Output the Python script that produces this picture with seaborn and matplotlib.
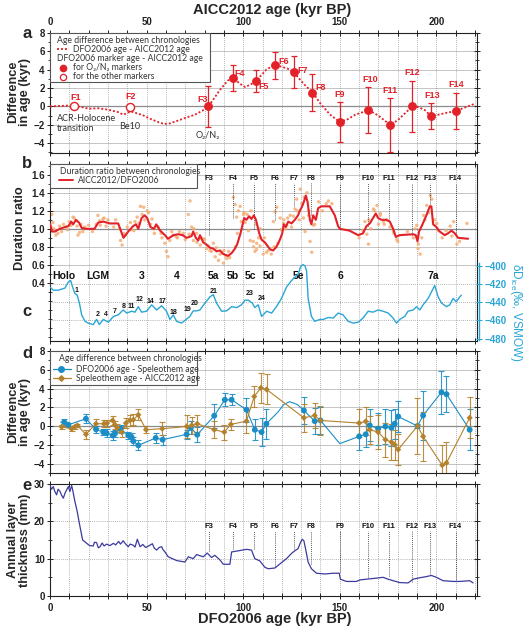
import numpy as np
import pandas as pd
import matplotlib
matplotlib.use("Agg")
import matplotlib.pyplot as plt
import seaborn as sns
from matplotlib.patches import Rectangle
from matplotlib.ticker import MultipleLocator, FuncFormatter

# ---------------------------------------------------------------- data
# panel a : DFO2006 - AICC2012 age difference (kyr) vs AICC2012 age
a_curve_age = [0, 5, 10, 13, 17, 20, 25, 30, 35, 38, 40, 42, 45, 48, 52, 56, 59, 62, 66, 70,
               75, 79, 82, 85, 88, 92, 95, 98, 101, 104, 106.5, 109, 112, 115, 117, 120, 123,
               126, 129, 132, 136, 140, 145, 150, 154, 158, 165, 170, 176, 180, 184, 187.5,
               191, 194, 197, 201, 205, 210, 215, 220]
a_curve_diff = [0, 0.05, 0.1, 0.05, -0.1, -0.25, -0.2, -0.35, -0.6, -0.9, -0.7, -0.55, -0.75,
                -0.95, -1.35, -1.7, -1.9, -1.85, -1.55, -1.25, -0.9, -0.45, 0, 0.9, 1.8, 2.8,
                3.1, 2.5, 2.1, 2.4, 2.75, 3.3, 4.0, 4.35, 4.45, 4.3, 4.1, 3.75, 3.0, 2.3, 1.5,
                0.3, -0.9, -1.7, -1.4, -0.9, -0.4, -1.0, -2.0, -1.5, -0.7, 0.0, -0.1, -0.4,
                -1.0, -0.9, -0.7, -0.5, -0.1, 0.3]
marker_names = ["F1", "F2", "F3", "F4", "F5", "F6", "F7", "F8", "F9", "F10", "F11", "F12", "F13", "F14"]
marker_age = [12.4, 41.2, 81.9, 94.8, 106.4, 116.7, 126.2, 135.7, 150.0, 164.8, 176.2, 187.2, 197.1, 210.0]
marker_diff = [0.05, -0.05, 0.0, 3.1, 2.75, 4.45, 3.75, 1.5, -1.7, -0.4, -2.0, 0.0, -1.0, -0.5]
marker_err = [0, 0, 2.2, 1.4, 1.2, 1.5, 1.7, 2.05, 2.2, 2.5, 2.9, 2.8, 1.4, 2.0]
marker_kind = ["other", "other"] + ["O2/N2"] * 12

# panel b : duration ratio AICC2012/DFO2006
b_age = [0, 1, 2.6, 5, 7.8, 9.5, 11, 12, 13.4, 15, 16.4, 19, 23, 25, 27.6, 31, 35.3, 38, 40.5,
         43, 44.5, 45.7, 47.4, 49, 50.3, 52, 53.8, 55, 57, 59.5, 61, 64, 66.4, 68.6, 70.7, 73.3,
         74.1, 75.5, 76.7, 77.6, 79.3, 80.7, 82.8, 84.5, 86.2, 88, 89.7, 92.2, 94, 95.7, 96.9,
         97.9, 98.6, 99.7, 100.5, 101.7, 103, 104.3, 105.5, 106.6, 108.3, 109.5, 111.2, 112.9,
         114.1, 115.5, 117.2, 119, 120.2, 121, 122, 123.3, 125, 126.7, 128.4, 129.3, 130.5,
         131.4, 132.4, 133.3, 134.5, 135.3, 136.2, 137.6, 138.8, 140.5, 144.8, 147.4, 149.1,
         150, 155, 159.5, 162, 163.8, 165.5, 167.2, 168.6, 169.8, 171.6, 174.1, 175.9, 177.6,
         179, 181, 188, 189.3, 190.2, 191, 192.8, 194.8, 196.6, 197.4, 198.3, 200, 201.7,
         204.3, 206, 207.8, 209.5, 211.2, 216.4]
b_ratio = [1.06, 0.97, 0.97, 1.0, 1.02, 1.03, 1.08, 1.05, 1.10, 1.07, 1.01, 1.0, 1.0, 1.07,
           1.08, 1.06, 1.06, 0.90, 0.97, 1.03, 1.05, 1.0, 1.12, 1.15, 1.12, 1.02, 1.0, 1.05,
           0.98, 0.93, 0.89, 0.93, 0.94, 0.93, 0.90, 0.92, 0.97, 0.90, 0.87, 0.93, 0.85, 0.83,
           0.79, 0.78, 0.75, 0.76, 0.72, 0.70, 0.73, 0.78, 0.83, 0.90, 0.95, 1.05, 1.12, 1.10,
           1.14, 1.11, 1.15, 1.10, 0.95, 0.88, 0.85, 0.80, 0.77, 0.76, 0.80, 0.88, 0.95, 1.05,
           1.02, 1.08, 1.06, 1.10, 1.15, 1.20, 1.25, 1.30, 1.37, 1.30, 1.10, 1.05, 1.15, 1.10,
           1.23, 1.25, 1.25, 1.15, 1.03, 1.00, 0.98, 0.93, 0.95, 1.03, 1.06, 1.12, 1.17, 1.12,
           1.10, 1.10, 1.08, 1.00, 0.91, 0.93, 0.94, 0.93, 0.86, 0.97, 1.05, 1.15, 1.25, 1.25,
           1.05, 1.02, 0.97, 0.93, 0.95, 0.98, 0.95, 0.90, 0.89]
# individual duration-ratio estimates (orange dots)
dots_age = [0.9, 1.5, 2.4, 4.1, 8.4, 11, 11.9, 13.6, 15.3, 14.5,
            24.8, 25.7, 27.4, 23.9, 36.5, 37.3, 38.2, 41.6, 43.4, 45.1,
            46.8, 48.5, 50.3, 47.7, 52, 53.7, 52.8, 59.4, 60.3, 61.1,
            62, 63.7, 65.4, 71.6, 72.5, 73.3, 74.2, 75.9, 77.7, 79.4,
            81.1, 82.8, 84.6, 85.5, 87.2, 88.9, 89.8, 91.5, 92.4, 94.9,
            95.8, 96.6, 97.5, 98.4, 100.1, 101, 102.7, 103.6, 105.3, 106.1,
            107, 105.2, 106.9, 108.7, 110.4, 112.1, 115.6, 116.5, 117.4, 119.1,
            120.8, 122.5, 124.3, 126.8, 127.7, 129.5, 130.3, 131.2, 132, 133.8,
            134.6, 135.5, 136.4, 144.1, 145.9, 164, 164.8, 167.4, 169.2, 170.9,
            172.6, 174.3, 177.8, 179.5, 189.8, 190.7, 191.6, 192.4, 193.3, 195,
            196.8, 197.6, 200.2, 207.1, 208.9, 210.6, 215.8,
            0.5, 2, 3, 5, 6, 7, 9, 10, 12.5, 14,
            16, 17, 18, 20, 22, 26, 28, 29, 30, 33,
            34, 36, 39, 40, 42, 44, 46, 49, 51, 54,
            56, 57.5, 58, 63, 66, 67, 69, 70, 72, 74.5,
            76, 78, 80, 82, 83.5, 86, 88, 90, 91, 93,
            96, 97, 99, 100.5, 102, 104, 106.8, 108, 109, 111,
            113, 114.5, 116, 118, 119.5, 121, 122, 123, 125, 126,
            128, 129, 131.5, 133, 134, 137, 139, 141, 143, 160,
            162, 163, 165, 166, 168, 170, 171, 173, 176, 178,
            180, 185, 188, 189, 190.5, 194, 196, 199, 201, 203,
            205, 208, 212]
dots_ratio = [1.16, 1.07, 0.98, 0.95, 1.02, 1.04, 1.13, 1.09, 0.96, 0.93,
              1.15, 1.09, 1.11, 1.05, 0.87, 0.82, 0.95, 1.07, 0.98, 1.13,
              1.25, 1.24, 1.2, 1.16, 1.05, 1.0, 1.11, 0.84, 0.75, 0.69,
              0.87, 0.93, 0.91, 1.16, 1.31, 1.02, 0.87, 0.95, 0.82, 0.89,
              0.78, 0.76, 0.84, 0.69, 0.65, 0.73, 0.62, 0.67, 0.75, 1.35,
              1.27, 1.13, 1.2, 1.25, 1.16, 1.07, 0.98, 0.87, 0.8, 0.75,
              0.84, 0.86, 0.77, 0.81, 0.72, 0.74, 1.08, 1.19, 1.24, 1.12,
              1.06, 1.04, 1.15, 1.22, 1.33, 1.44, 1.28, 1.12, 0.97, 1.15,
              0.86, 0.74, 1.04, 1.31, 1.28, 0.94, 0.83, 1.22, 1.26, 1.15,
              1.08, 1.10, 0.97, 0.88, 1.04, 0.83, 0.72, 0.9, 1.15, 1.26,
              1.37, 1.33, 1.06, 1.03, 1.08, 0.83, 1.06,
              1.02, 1.0, 0.93, 1.03, 0.97, 1.05, 0.99, 1.08, 1.12, 1.03,
              1.05, 0.97, 1.02, 1.04, 0.97, 1.04, 1.12, 1.03, 1.1, 1.02,
              1.1, 1.0, 0.93, 1.02, 0.99, 1.08, 1.06, 1.1, 1.18, 0.95,
              1.02, 0.95, 0.9, 0.97, 0.9, 0.97, 0.95, 0.88, 0.94, 1.0,
              0.85, 0.9, 0.88, 0.81, 0.75, 0.79, 0.72, 0.76, 0.7, 0.68,
              0.8, 0.95, 1.08, 1.18, 1.16, 1.2, 1.05, 0.9, 1.0, 0.9,
              0.76, 0.72, 0.8, 0.84, 0.99, 1.1, 1.0, 1.12, 1.02, 1.14,
              1.2, 1.1, 1.35, 1.4, 1.2, 1.05, 1.3, 1.2, 1.28, 0.9,
              0.98, 1.08, 1.1, 1.0, 1.2, 1.05, 1.17, 1.05, 1.02, 0.95,
              0.86, 0.97, 0.9, 1.0, 0.78, 1.1, 1.18, 1.1, 0.98, 0.9,
              0.98, 0.92, 0.86]
f_names = ["F3", "F4", "F5", "F6", "F7", "F8", "F9", "F10", "F11", "F12", "F13", "F14"]
f_age_dfo = [82.3, 94.8, 105.8, 116.2, 126.3, 135.3, 150.0, 164.5, 175.2, 187.3, 196.8, 209.9]

# panel c : deltaD ice (permil VSMOW)
c_age = [0, 1.7, 4.3, 7.8, 9.5, 10.7, 11.7, 12.9, 14.1, 15.2, 16.4, 18.1, 19.8, 22.4, 24.1,
         25.5, 27.6, 30.2, 32.8, 35.3, 37.9, 39.7, 42.2, 44, 45.7, 47.4, 50, 52.6, 55.2, 57.8,
         60.3, 62.1, 63.8, 65.5, 68.1, 70.7, 72.4, 74.1, 75.9, 77.6, 80.2, 82.8, 84.5, 86.2,
         88.8, 91.4, 94, 96.6, 99.1, 100.9, 102.6, 104.7, 106, 107.8, 109.5, 112.1, 114.7,
         117.2, 119.8, 122.4, 125, 126.7, 128.4, 129.8, 131, 132, 132.8, 133.6, 135.3, 137,
         139.7, 141.4, 144, 146.6, 149.1, 151.7, 154.3, 156.9, 159.5, 162, 164.7, 167.2,
         169.8, 172.4, 175, 177.6, 179.3, 181, 183.6, 185.3, 188, 189.7, 191.4, 193.1, 195.7,
         197.4, 199.1, 200.9, 202.6, 205.2, 206.9, 208.6, 210.3, 212.1, 212.9]
c_dD = [-423.6, -427, -427, -424.6, -418, -416.4, -423.6, -430.7, -432.5, -441, -454, -461,
        -463, -464.6, -459, -464.6, -459, -462, -455.7, -454, -448.6, -452, -450, -451, -445,
        -451, -450, -443, -448.6, -444, -450, -459, -454, -461, -463, -458.6, -455.7, -449.6,
        -449.6, -448.6, -441, -434.3, -431.8, -441, -450, -449.6, -445, -446, -443, -437.9,
        -437.9, -441, -446, -443, -455.7, -450, -452, -445, -436, -423.6, -416.4, -412.9,
        -409.5, -401, -399, -400.5, -406, -436, -455.7, -461, -459, -459, -456.8, -457.5,
        -452, -454, -461, -463, -462, -457.5, -450, -451, -448.6, -450, -452, -457.5, -463,
        -459, -455.7, -450, -448.6, -445, -448.6, -443, -436, -429, -421.8, -434.3, -441,
        -445, -443, -436, -439.6, -434.3, -432.5]
stage_names = ["Holo", "LGM", "3", "4", "5a", "5b", "5c", "5d", "5e", "6", "7a"]
stage_age = [6.9, 25, 47.4, 65.5, 84.5, 94.5, 103.8, 113.3, 128.8, 150.3, 198.6]
event_names = ["1", "2", "4", "7", "8", "11", "12", "14", "17", "18", "19", "20", "21", "23", "24"]
event_age = [13.8, 24.7, 29.0, 33.6, 38.3, 42.2, 46.2, 51.7, 58.0, 64.1, 71.0, 74.7, 84.5, 103.1, 109.5]
event_dD = [-427, -454, -454, -450, -445, -445, -437, -439, -439, -451, -448, -442, -428, -431, -436]

# panel d : speleothem comparisons (kyr)
d_blue_age = [7.4, 9.5, 18.6, 23.8, 27.6, 29.3, 32.4, 33.6, 36.6, 40.5, 42.2, 43.1, 45.7, 54.7,
              58.3, 70.7, 72.9, 76.2, 85, 90.5, 94, 101.7, 106, 109.5, 112, 131.4, 137, 140,
              160, 163.4, 165.5, 169.8, 173.6, 176.7, 178.4, 180.2, 190.2, 193.1, 202.6, 205.2, 217.2]
d_blue_diff = [0.42, 0.14, 0.78, -0.35, -0.64, -0.74, -1.0, -0.8, -0.3, -1.0, -1.17, -1.6, -2.05,
               -1.27, -1.45, -0.88, -0.18, -0.92, 1.1, 2.8, 2.8, 1.74, -0.39, -0.64, 0.25, 1.66,
               0.53, 0.6, -1.1, -0.88, 0.07, -0.28, -0.04, -0.18, 0.25, 1.02, 0.0, 1.13, 3.6, 3.4, -0.39]
d_blue_err = [0.3, 0.2, 0.5, 0.4, 0.3, 0.4, 0.5, 0.4, 0.4, 0.4, 0.4, 0.4, 0.55, 0.5, 0.55, 0.5,
              0.7, 0.8, 1.3, 0.7, 0.6, 1.3, 1.1, 1.5, 1.6, 1.4, 1.4, 1.4, 1.5, 1.4, 1.7, 1.7,
              1.9, 1.9, 1.6, 1.6, 0.2, 2.6, 2.3, 1.9, 2.2]
d_blue_bend_age = [5.5, 118, 121, 124, 128, 150]
d_blue_bend_diff = [0.42, 1.5, 2.3, 2.6, 2.3, -1.87]
d_brown_age = [6, 11.2, 12.9, 14.1, 18.6, 23.8, 27.9, 29.5, 32.4, 33.6, 34.8, 37.1, 39.3, 41.4,
               43.1, 45.7, 49.7, 58.1, 70.7, 73.3, 76.2, 85, 90.2, 93.6, 101.7, 105.7, 109.1,
               112.1, 131.4, 137, 140, 160, 163.4, 165.5, 169.8, 173.6, 176.7, 178.4, 180.2,
               190.2, 193.1, 203, 205.2, 217.2]
d_brown_diff = [-0.07, -0.3, -0.1, 0.07, -0.88, 0.25, 0.25, 0.3, 0.6, 0.14, -0.18, -0.64, 0.32,
                0.6, 0.67, 1.2, -0.39, -0.28, -0.04, 0.07, 0.25, -0.39, -0.64, 0.18, 0.53, 3.15,
                4.07, 3.9, 0.88, 1.13, 0.6, 0.32, 0.5, -0.39, -0.64, -1.45, -1.7, -1.98, -2.5,
                0.0, -1.1, -4.17, -3.92, 0.88]
d_brown_err = [0.2, 0.2, 0.2, 0.2, 0.45, 0.5, 0.4, 0.4, 0.5, 0.4, 0.4, 0.5, 0.5, 0.6, 0.6, 0.6,
               0.4, 0.7, 1.2, 0.9, 0.9, 0.9, 0.8, 0.6, 1.3, 1.1, 1.6, 1.6, 1.5, 1.3, 1.5, 1.5,
               1.5, 1.5, 1.8, 1.8, 1.9, 1.6, 1.7, 3.0, 2.6, 2.2, 2.2, 2.2]

# panel e : annual layer thickness (mm)
e_age = [0, 0.8, 1.7, 2.5, 3.4, 4.2, 5.2, 6, 6.9, 7.8, 8.6, 9.5, 10.3, 11.2, 11.7, 12.9, 14.1,
         15, 16, 16.9, 19, 20.5, 22.4, 23, 24.1, 25, 25.9, 27, 28, 29.3, 31, 32.8, 34, 35.5,
         36.5, 37.9, 39, 40.5, 41.5, 43.1, 44, 45.2, 46.6, 48, 49.5, 51.7, 53, 54, 55.2, 56.5,
         57.8, 58.5, 59.5, 61.2, 65.5, 69.8,
         71.6, 74.1, 75.9, 79.3, 81.4, 83.6, 85.3, 87.9, 89.7, 93.1, 94, 97.4, 101.7, 104.3,
         106, 108.6, 111.2, 112.9, 116.4, 119, 122.4, 125, 126.7, 128.4, 129.3, 130.5, 131.4,
         132.4, 133.6, 135.3, 137.9, 142.2, 146.6, 149.7, 150.3, 153.4, 158.6, 160.3, 163.8,
         169, 172.4, 175, 177.6, 181, 185.3, 187.9, 190.5, 194.8, 197.4, 200, 203.4, 208.6,
         212.1, 217.2, 219]
e_thick = [29.5, 28.6, 29.3, 28.0, 27.1, 28.6, 28, 27.0, 26.2, 27.6, 28.4, 29.3, 28, 29.6,
           28.5, 25.3, 22.6, 20, 17.3, 15, 14.1, 13.5, 13.4, 14.4, 14.3, 12.9, 13.2, 14.2, 13.4,
           13.9, 13.5, 14.1, 13.7, 14.6, 13.9, 14.8, 14.0, 13.2, 13.9, 13.6, 13.1, 15.2, 13.2,
           13.8, 13.0, 13.6, 14.0, 12.8, 12.3, 13.0, 13.2, 12.4, 11.8, 10.5, 9.5, 9.1,
           10.5, 10, 11.1, 10.5, 11.5, 10.3, 10.9, 9.7, 8.5, 8.5, 11.8, 12.1, 12.5, 12.3, 10,
           9.4, 7.7, 7.3, 7.5, 8.6, 10, 11.4, 12.1, 12.7, 13.9, 15.2, 14.8, 12.3, 9.1, 7.3, 6.1,
           5.9, 6.1, 6.1, 4.5, 3.9, 3.9, 4.3, 4.5, 4.8, 5.0, 4.5, 4.1, 3.6, 3.5, 4.5, 4.8, 5.2,
           5.5, 5.0, 4.1, 3.9, 3.9, 4.1, 3.5]

# ---------------------------------------------------------------- layout / style
RED = "#e32129"
ORANGE = "#f4a96c"
BLUE_C = "#2aa6d5"
D_BLUE = "#1b8dc6"
D_BROWN = "#b4822c"
E_COL = "#3b3a9e"
GRID = "#9a9a9a"
HGRID = "#c4c4c4"
TXT = "#333333"

# label offsets of F markers in panel a (kyr, kyr); None -> above error bar
a_label_dx = [1.0, 0.7, -3.0, 3.5, 3.9, 4.0, 4.3, 4.3, 0, 0.7, 0, 0, 0.7, 0]
a_label_dy = [0.9, 1.15, 0.8, 0.45, -0.6, 0.4, 0.2, 0.5, None, None, None, None, None, None]
b_line_end = [0.93, 1.12, 1.0, 1.1, 1.25, 1.15, 1.0, 1.03, 1.1, 0.93, 1.28, 0.93]
e_line_end = [12.0, 12.7, 12.6, 8.0, 12.6, 8.5, 6.3, 5.0, 5.3, 3.7, 5.6, 3.9]

sns.set_theme(style="ticks")
plt.rcParams["font.family"] = ["Liberation Sans", "DejaVu Sans"]
plt.rcParams["font.weight"] = "bold"
plt.rcParams["axes.linewidth"] = 0.8
plt.rcParams["axes.edgecolor"] = "#222222"
plt.rcParams["mathtext.default"] = "regular"
LEG_FONT = ["Lato", "DejaVu Sans"]

fig = plt.figure(figsize=(5.25, 6.27), dpi=100)
W_PX, H_PX = 525, 627
L0, R0 = 50, 477


def add_ax(top, bot):
    return fig.add_axes([L0 / W_PX, 1 - bot / H_PX, (R0 - L0) / W_PX, (bot - top) / H_PX])


ax_a = add_ax(32.7, 152.5)
ax_b = add_ax(164, 340.5)
ax_d = add_ax(351, 473)
ax_e = add_ax(484, 596)
ax_c = ax_b.twinx()

XMAX = 221


def setup_x(ax, top_labels=False, bottom_labels=False):
    ax.set_xlim(0, XMAX)
    ax.set_xticks(np.arange(0, XMAX, 10))
    ax.xaxis.set_major_formatter(FuncFormatter(
        lambda v, p: f"{int(round(v))}" if int(round(v)) % 50 == 0 else ""))
    ax.tick_params(axis="x", which="major", direction="inout", length=4.5, width=0.7,
                   top=True, bottom=True, labeltop=top_labels, labelbottom=bottom_labels,
                   labelsize=7, pad=2, colors="#222222")
    ax.grid(axis="x", which="major", ls=(0, (1, 1.5)), lw=0.6, color=GRID)
    ax.set_axisbelow(True)


def setup_y(ax, lo, hi, step, minor, right=True):
    ax.set_ylim(lo, hi)
    ax.yaxis.set_major_locator(MultipleLocator(step))
    ax.yaxis.set_minor_locator(MultipleLocator(minor))
    ax.tick_params(axis="y", which="major", direction="inout", length=4.5, width=0.7,
                   left=True, right=right, labelsize=7, pad=1.5, colors="#222222")
    ax.tick_params(axis="y", which="minor", direction="inout", length=2.5, width=0.6,
                   left=True, right=right)


def legend_text(ax, x, y, s, **kw):
    ax.text(x, y, s, transform=ax.transAxes, fontsize=6.2, fontweight="normal",
            family=LEG_FONT, color=TXT, va="center", ha="left", zorder=12, **kw)


# ---------------------------------------------------------------- panel a
setup_x(ax_a, top_labels=True)
setup_y(ax_a, -5, 8, 2, 1)
ax_a.set_yticks([-4, -2, 0, 2, 4, 6, 8])
for yv in [-4, -2, 2, 4, 6]:
    ax_a.axhline(yv, color=HGRID, lw=0.7, zorder=0)
ax_a.axhline(0, color="#8c8c8c", lw=0.9, zorder=0)

sns.lineplot(x=a_curve_age, y=a_curve_diff, ax=ax_a, color=RED, lw=1.3,
             linestyle=(0, (1.1, 1.1)), estimator=None, sort=False, zorder=3)
m_df = pd.DataFrame({"age": marker_age, "diff": marker_diff, "err": marker_err,
                     "kind": marker_kind, "name": marker_names})
has_err = m_df[m_df["err"] > 0]
ax_a.errorbar(has_err["age"], has_err["diff"], yerr=has_err["err"], fmt="none",
              ecolor=RED, elinewidth=0.9, capsize=2.3, capthick=0.9, zorder=4)
sns.scatterplot(data=m_df[m_df["kind"] == "O2/N2"], x="age", y="diff", ax=ax_a,
                color=RED, edgecolor=RED, s=34, linewidth=0.5, zorder=5)
sns.scatterplot(data=m_df[m_df["kind"] == "other"], x="age", y="diff", ax=ax_a,
                color="white", edgecolor=RED, s=34, linewidth=1.0, zorder=5)
for i, row in m_df.iterrows():
    if a_label_dy[i] is None:
        ax_a.text(row["age"] + a_label_dx[i], row["diff"] + row["err"] + 0.35, row["name"],
                  color=RED, fontsize=6.5, ha="center", va="bottom", zorder=6)
    else:
        ax_a.text(row["age"] + a_label_dx[i], row["diff"] + a_label_dy[i], row["name"],
                  color=RED, fontsize=6.5, ha="center", va="center", zorder=6)
ax_a.text(3.6, -0.85, "ACR-Holocene\ntransition", fontsize=6.5, fontweight="normal",
          family=LEG_FONT, color=TXT, ha="left", va="top", linespacing=1.05)
ax_a.text(41.4, -2.15, "Be10", fontsize=6.5, fontweight="normal", family=LEG_FONT,
          color=TXT, ha="center", va="center")
ax_a.text(81.8, -3.2, "O\u2082/N\u2082", fontsize=6.5, fontweight="normal",
          family=LEG_FONT, color=TXT, ha="center", va="center")
# legend a
ax_a.add_patch(Rectangle((0, 0.588), 0.375, 0.412, transform=ax_a.transAxes,
                         fc="white", ec="#555555", lw=0.8, zorder=10))
legend_text(ax_a, 0.016, 0.937, "Age difference between chronologies")
ax_a.plot([0.016, 0.044], [0.862, 0.862], transform=ax_a.transAxes, color=RED, lw=1.3,
          ls=(0, (1.1, 1.1)), zorder=12)
legend_text(ax_a, 0.055, 0.862, "DFO2006 age - AICC2012 age")
legend_text(ax_a, 0.016, 0.786, "DFO2006 marker age - AICC2012 age")
ax_a.plot([0.03], [0.708], "o", transform=ax_a.transAxes, color=RED, ms=4.5, zorder=12)
legend_text(ax_a, 0.055, 0.708, "for O\u2082/N\u2082 markers")
ax_a.plot([0.03], [0.633], "o", transform=ax_a.transAxes, mfc="white", mec=RED, mew=0.9,
          ms=4.5, zorder=12)
legend_text(ax_a, 0.055, 0.633, "for the other markers")

# ---------------------------------------------------------------- panel b
setup_x(ax_b)
setup_y(ax_b, -0.24, 1.72, 0.2, 0.1, right=False)
ax_b.set_yticks([0.4, 0.6, 0.8, 1.0, 1.2, 1.4, 1.6])
for yv in [0.6, 0.8, 1.2, 1.4, 1.6]:
    ax_b.axhline(yv, color=HGRID, lw=0.7, zorder=0)
ax_b.axhline(1.0, color="#8c8c8c", lw=0.9, zorder=0)
sns.scatterplot(x=dots_age, y=dots_ratio, ax=ax_b, color=ORANGE, s=6, edgecolor="none",
                alpha=0.8, zorder=2)
sns.lineplot(x=b_age, y=b_ratio, ax=ax_b, color=RED, lw=1.5, estimator=None, sort=False,
             zorder=4)
ax_b.vlines(f_age_dfo, b_line_end, 1.51, colors="#222222", linestyles=(0, (1, 1.5)), lw=0.6,
            zorder=3)
for nm, ag in zip(f_names, f_age_dfo):
    ax_b.text(ag, 1.56, nm, fontsize=5.5, ha="center", va="center", color="#111111")
for nm, ag in zip(stage_names, stage_age):
    ax_b.text(ag, 0.48, nm, fontsize=7.5, ha="center", va="center", color="#111111")
ax_b.add_patch(Rectangle((0, 0.864), 0.344, 0.136, transform=ax_b.transAxes,
                         fc="white", ec="#555555", lw=0.8, zorder=10))
legend_text(ax_b, 0.023, 0.958, "Duration ratio between chronologies")
ax_b.plot([0.021, 0.054], [0.912, 0.912], transform=ax_b.transAxes, color=RED, lw=1.4,
          zorder=12)
legend_text(ax_b, 0.065, 0.912, "AICC2012/DFO2006")

# ---------------------------------------------------------------- panel c (twin)
ax_c.set_ylim(-482, -289)
ax_c.set_yticks([-480, -460, -440, -420, -400])
ax_c.tick_params(axis="y", which="major", direction="inout", length=4.5, width=0.8,
                 right=True, labelsize=7, pad=1.5, colors=BLUE_C, labelcolor=BLUE_C)
for sp in ["left", "top", "bottom"]:
    ax_c.spines[sp].set_visible(False)
ax_c.spines["right"].set_color(BLUE_C)
ax_c.spines["right"].set_linewidth(1.0)
ax_c.spines["right"].set_bounds(-481, -397)
ax_c.spines["right"].set_position(("outward", 1.5))
ax_c.hlines([-460, -440, -420], 0, XMAX, colors=GRID, linestyles=(0, (1, 1.5)), lw=0.6,
            zorder=0)
sns.lineplot(x=c_age, y=c_dD, ax=ax_c, color=BLUE_C, lw=1.0, estimator=None, sort=False,
             zorder=3)
for nm, ag, dv in zip(event_names, event_age, event_dD):
    ax_c.text(ag, dv, nm, fontsize=5, ha="center", va="center", color="#111111")
ax_c.set_xlim(0, XMAX)
ax_c.set_ylabel("")

# ---------------------------------------------------------------- panel d
setup_x(ax_d)
setup_y(ax_d, -5, 8, 2, 1)
ax_d.set_yticks([-4, -2, 0, 2, 4, 6, 8])
for yv in [-4, -2, 2, 4, 6]:
    ax_d.axhline(yv, color=HGRID, lw=0.7, zorder=0)
ax_d.axhline(0, color="#8c8c8c", lw=0.9, zorder=0)
blue_df = pd.DataFrame({"age": d_blue_age, "diff": d_blue_diff, "err": d_blue_err})
bend_df = pd.DataFrame({"age": d_blue_bend_age, "diff": d_blue_bend_diff})
blue_line = pd.concat([blue_df[["age", "diff"]], bend_df]).sort_values("age")
brown_df = pd.DataFrame({"age": d_brown_age, "diff": d_brown_diff, "err": d_brown_err})
ax_d.errorbar(blue_df["age"], blue_df["diff"], yerr=blue_df["err"], fmt="none",
              ecolor=D_BLUE, elinewidth=0.8, capsize=2.0, capthick=0.8, zorder=3, alpha=0.9)
ax_d.errorbar(brown_df["age"], brown_df["diff"], yerr=brown_df["err"], fmt="none",
              ecolor=D_BROWN, elinewidth=0.8, capsize=2.0, capthick=0.8, zorder=4, alpha=0.9)
sns.lineplot(data=blue_line, x="age", y="diff", ax=ax_d, color=D_BLUE, lw=0.8,
             estimator=None, sort=False, zorder=3)
sns.lineplot(data=brown_df, x="age", y="diff", ax=ax_d, color=D_BROWN, lw=0.8,
             estimator=None, sort=False, zorder=4)
sns.scatterplot(data=blue_df, x="age", y="diff", ax=ax_d, color=D_BLUE, s=18,
                edgecolor="none", zorder=5)
sns.scatterplot(data=brown_df, x="age", y="diff", ax=ax_d, color=D_BROWN, s=10,
                marker="D", edgecolor="none", zorder=6)
ax_d.add_patch(Rectangle((0, 0.721), 0.344, 0.279, transform=ax_d.transAxes,
                         fc="white", ec="#555555", lw=0.8, zorder=10))
legend_text(ax_d, 0.022, 0.94, "Age difference between chronologies")
ax_d.plot([0.008, 0.05], [0.852, 0.852], transform=ax_d.transAxes, color=D_BLUE, lw=0.9,
          zorder=12)
ax_d.plot([0.026], [0.852], "o", transform=ax_d.transAxes, color=D_BLUE, ms=4, zorder=13)
legend_text(ax_d, 0.06, 0.852, "DFO2006 age - Speleothem age")
ax_d.plot([0.008, 0.05], [0.776, 0.776], transform=ax_d.transAxes, color=D_BROWN, lw=0.9,
          zorder=12)
ax_d.plot([0.026], [0.776], "D", transform=ax_d.transAxes, color=D_BROWN, ms=2.8, zorder=13)
legend_text(ax_d, 0.06, 0.776, "Speleothem age - AICC2012 age")

# ---------------------------------------------------------------- panel e
setup_x(ax_e, bottom_labels=True)
ax_e.tick_params(axis="x", pad=3)
setup_y(ax_e, 0, 30, 10, 5)
ax_e.hlines([10, 20], 0, XMAX, colors=GRID, linestyles=(0, (1, 1.5)), lw=0.6, zorder=0)
sns.lineplot(x=e_age, y=e_thick, ax=ax_e, color=E_COL, lw=0.9, estimator=None, sort=False,
             zorder=3)
ax_e.vlines(f_age_dfo, e_line_end, 17.3, colors="#222222", linestyles=(0, (1, 1.5)), lw=0.6,
            zorder=2)
for nm, ag in zip(f_names, f_age_dfo):
    ax_e.text(ag, 18.6, nm, fontsize=5.5, ha="center", va="center", color="#111111")

for ax in [ax_a, ax_b, ax_d, ax_e]:
    ax.set_xlabel("")
    ax.set_ylabel("")
    ax.set_xlim(0, XMAX)

# ---------------------------------------------------------------- labels
def ftext(xpx, ypx, s, **kw):
    fig.text(xpx / W_PX, 1 - ypx / H_PX, s, **kw)


ftext(272, 10, "AICC2012 age (kyr BP)", fontsize=10.5, ha="center", va="center")
ftext(275, 626, "DFO2006 age (kyr BP)", fontsize=10.5, ha="center", va="bottom")
for letter, ypx in zip("abcde", [33, 163, 312, 353, 486]):
    ftext(27, ypx, letter, fontsize=12, ha="center", va="center")
ylab_kw = dict(fontsize=9.2, rotation=90, ha="center", va="center", multialignment="center",
               linespacing=1.05)
ftext(19, 92, "Difference\nin age (kyr)", **ylab_kw)
ftext(20, 228, "Duration ratio", **ylab_kw)
ftext(19, 412, "Difference\nin age (kyr)", **ylab_kw)
ftext(19, 540, "Annual layer\nthickness (mm)", **ylab_kw)
ftext(516, 313, "\u03b4D$_{ice}$(\u2030, VSMOW)", fontsize=8.5, rotation=270, ha="center",
      va="center", color=BLUE_C, fontweight="normal")

fig.savefig("out.png", dpi=100)
